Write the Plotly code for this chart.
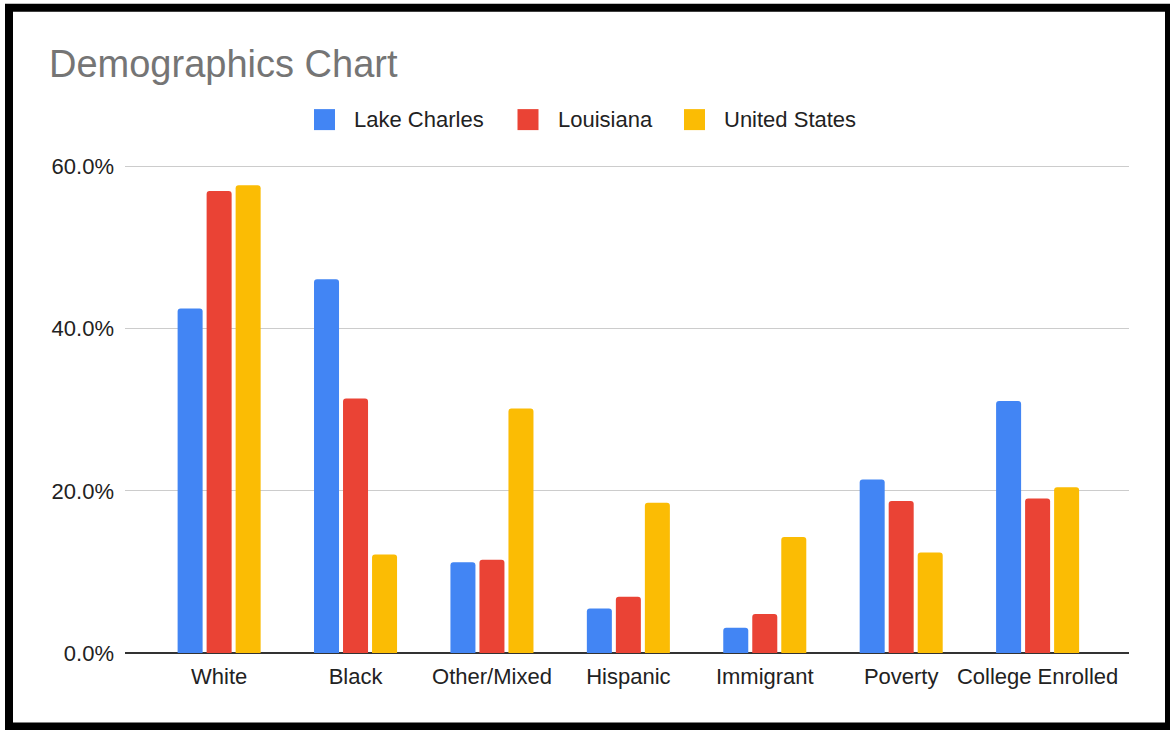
import plotly.graph_objects as go

categories = ["White", "Black", "Other/Mixed", "Hispanic", "Immigrant", "Poverty", "College Enrolled"]
series_names = ["Lake Charles", "Louisiana", "United States"]
lake_charles = [42.5, 46.1, 11.2, 5.5, 3.1, 21.4, 31.1]
louisiana = [57.0, 31.4, 11.5, 6.95, 4.8, 18.75, 19.05]
united_states = [57.7, 12.15, 30.15, 18.55, 14.3, 12.4, 20.45]
y_ticks = [0, 20, 40, 60]
y_tick_labels = ["0.0%", "20.0%", "40.0%", "60.0%"]

series_values = [lake_charles, louisiana, united_states]
colors = ["#4285F4", "#EA4335", "#FBBC04"]

W, H = 1170, 730
ML, MR, MT, MB = 125, 41, 165.4, 76.5
PW, PH = W - ML - MR, H - MT - MB

def px(x):
    return (x - ML) / PW

def py(y):
    return (H - MB - y) / PH

fig = go.Figure()
for name, vals, col in zip(series_names, series_values, colors):
    fig.add_trace(go.Bar(x=categories, y=vals, name=name, marker=dict(color=col, line=dict(width=0)),
                         showlegend=False, hovertemplate="%{x}: %{y:.1f}%<extra>" + name + "</extra>"))

font_family = "Arial, 'Liberation Sans', Helvetica, sans-serif"

shapes = []
annotations = []
# manual legend
legend_sq_x = [314, 517.5, 684]
legend_y = 120
for name, col, lx in zip(series_names, colors, legend_sq_x):
    shapes.append(dict(type="rect", xref="paper", yref="paper",
                       x0=px(lx), x1=px(lx + 21), y0=py(legend_y - 10.5), y1=py(legend_y + 10.5),
                       fillcolor=col, line=dict(width=0), layer="above"))
    annotations.append(dict(text=name, xref="paper", yref="paper", x=px(lx + 38), y=py(legend_y),
                            xanchor="left", yanchor="middle", showarrow=False,
                            font=dict(size=22, color="#222222", family=font_family)))

# outer frame
shapes.append(dict(type="rect", xref="paper", yref="paper",
                   x0=px(9), x1=px(1169), y0=py(727), y1=py(8),
                   line=dict(color="black", width=8), fillcolor="rgba(0,0,0,0)", layer="above"))

fig.update_layout(
    width=W, height=H,
    margin=dict(l=ML, r=MR, t=MT, b=MB, pad=0),
    paper_bgcolor="white", plot_bgcolor="white",
    barmode="group", bargap=0.362, bargroupgap=0.138, barcornerradius=3,
    title=dict(text="Demographics Chart", xref="container", yref="container",
               x=49 / W, xanchor="left", y=1 - 64 / H, yanchor="middle",
               font=dict(size=38, color="#757575", family=font_family)),
    font=dict(family=font_family, size=22, color="#222222"),
    shapes=shapes, annotations=annotations,
    xaxis=dict(range=[-0.69, 6.67], showgrid=False, ticks="", showline=False,
               tickfont=dict(size=22, color="#222222"), ticklabelstandoff=8),
    yaxis=dict(range=[0, 60.2], tickmode="array", tickvals=y_ticks, ticktext=y_tick_labels,
               showgrid=True, gridcolor="#cccccc", gridwidth=1.3,
               zeroline=True, zerolinecolor="#333333", zerolinewidth=2,
               ticks="", showline=False, ticklabelstandoff=10,
               tickfont=dict(size=22, color="#222222")),
)

fig.write_html("out.html")
